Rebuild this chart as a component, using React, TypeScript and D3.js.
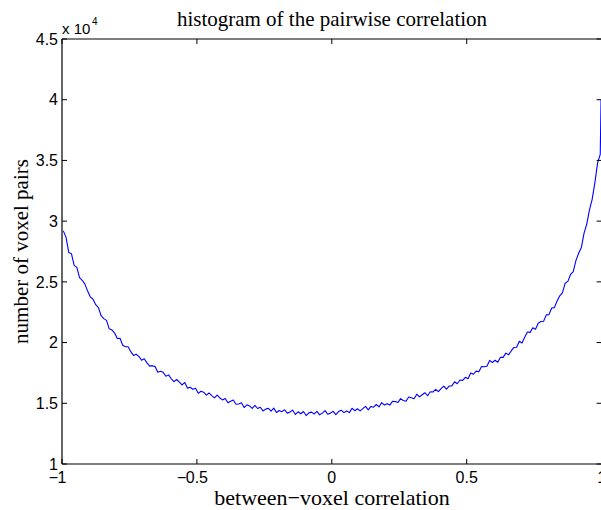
import React from 'react';
import * as d3 from 'd3';

// ---- data ----
const xTicks = [-1, -0.5, 0, 0.5, 1];
const xTickLabels = ['−1', '−0.5', '0', '0.5', '1'];
const yTicks = [1, 1.5, 2, 2.5, 3, 3.5, 4, 4.5];
const yTickLabels = ['1', '1.5', '2', '2.5', '3', '3.5', '4', '4.5'];
const yExponent = '4';
const titleText = 'histogram of the pairwise correlation';
const xLabelText = 'between−voxel correlation';
const yLabelText = 'number of voxel pairs';

// bin centers from -0.995 to 0.995 step 0.01
const binFirst = -0.995;
const binWidth = 0.01;
const counts = [
  29200, 28660, 27420, 27320, 26360, 26190, 25350, 25130, 24810, 24240,
  23760, 23570, 23120, 22880, 22210, 21970, 21830, 21130, 21040, 20780,
  20340, 20350, 19780, 19660, 19650, 19250, 18940, 19040, 18860, 18540,
  18670, 18330, 18060, 18100, 18020, 17560, 17630, 17550, 17230, 17340,
  17020, 16780, 16960, 16740, 16510, 16710, 16250, 16320, 16160, 16230,
  15820, 15990, 15910, 15670, 15850, 15630, 15450, 15680, 15440, 15280,
  15390, 15040, 15170, 15270, 14920, 14940, 15040, 14650, 14870, 14780,
  14580, 14820, 14570, 14670, 14370, 14520, 14590, 14350, 14600, 14240,
  14410, 14310, 14470, 14190, 14280, 14440, 14080, 14300, 14140, 14320,
  13990, 14210, 14270, 14120, 14340, 14050, 14190, 14400, 14100, 14190,
  14340, 14070, 14320, 14430, 14230, 14370, 14230, 14590, 14390, 14550,
  14380, 14560, 14750, 14460, 14740, 14680, 14900, 14700, 15060, 14850,
  14970, 14850, 15160, 15150, 15060, 15380, 15230, 15170, 15520, 15460,
  15380, 15750, 15530, 15700, 15870, 15620, 15950, 15930, 16150, 15960,
  16210, 16420, 16170, 16420, 16430, 16770, 16610, 16920, 16890, 17140,
  17020, 17500, 17390, 17650, 17590, 18030, 18010, 18050, 18530, 18360,
  18540, 18380, 18790, 18780, 19130, 18990, 19310, 19600, 19620, 20110,
  19970, 20440, 20870, 20840, 21220, 21100, 21590, 21730, 21760, 22280,
  22300, 22850, 22880, 23430, 23850, 24110, 24890, 25040, 25610, 25850,
  26770, 27360, 27820, 29020, 29760, 30930, 31800, 33150, 34780, 35500,
];
const lastBinX = 0.998;
const lastBinCount = 40000;

// ---- layout ----
const W = 601;
const H = 510;
const left = 62;
const right = 601.6;
const top = 39;
const bottom = 464;
const tickLen = 5;
const tickFont = 16;

function digitsWidth(s: string, size: number) {
  let w = 0;
  for (const c of s) w += c === '.' ? 0.278 : 0.556;
  return w * size;
}

export default function App() {
  const x = d3.scaleLinear().domain([-1, 1]).range([left, right]);
  const y = d3.scaleLinear().domain([1, 4.5]).range([bottom, top]);

  const pts: [number, number][] = counts.map((c, i) => [binFirst + i * binWidth, c / 1e4]);
  pts.push([lastBinX, lastBinCount / 1e4]);
  const line = d3.line<[number, number]>().x(d => x(d[0])).y(d => y(d[1]));

  const sans = 'Liberation Sans, Arial, Helvetica, sans-serif';
  const serif = 'Liberation Serif, Times New Roman, serif';

  return (
    <svg width={W} height={H} style={{ position: 'absolute', left: 0, top: 0, background: '#fff' }}>
      <rect x={0} y={0} width={W} height={H} fill="#fff" />
      <path d={line(pts) || ''} fill="none" stroke="#0000ff" strokeWidth={1.1} strokeLinejoin="round" />
      {/* box */}
      <g stroke="#000" strokeWidth={1.2} fill="none">
        <line x1={left} x2={right} y1={bottom} y2={bottom} />
        <line x1={left} x2={right} y1={top} y2={top} />
        <line x1={left} x2={left} y1={top} y2={bottom} />
        <line x1={right} x2={right} y1={top} y2={bottom} />
      </g>
      {/* ticks */}
      <g stroke="#000" strokeWidth={1}>
        {xTicks.map((t, i) => (
          <g key={'xt' + i}>
            <line x1={x(t)} x2={x(t)} y1={bottom} y2={bottom - tickLen} />
            <line x1={x(t)} x2={x(t)} y1={top} y2={top + tickLen} />
          </g>
        ))}
        {yTicks.map((t, i) => (
          <g key={'yt' + i}>
            <line x1={left} x2={left + tickLen} y1={y(t)} y2={y(t)} />
            <line x1={right} x2={right - tickLen} y1={y(t)} y2={y(t)} />
          </g>
        ))}
      </g>
      {/* x tick labels */}
      <g fontFamily={sans} fontSize={tickFont} fill="#000">
        {xTickLabels.map((lab, i) => {
          const neg = lab.startsWith('−');
          const digits = neg ? lab.slice(1) : lab;
          const dw = digitsWidth(digits, tickFont);
          const cx = x(xTicks[i]);
          return (
            <g key={'xl' + i}>
              <text x={cx} y={483} textAnchor="middle">{digits}</text>
              {neg && <text x={cx - dw / 2 + 0.5} y={483} textAnchor="end">−</text>}
            </g>
          );
        })}
        {yTickLabels.map((lab, i) => (
          <text key={'yl' + i} x={58} y={y(yTicks[i])} dy="0.36em" textAnchor="end">{lab}</text>
        ))}
        <text x={62} y={34} fontSize={15}>x 10</text>
        <text x={92} y={25} fontSize={10}>{yExponent}</text>
      </g>
      {/* labels */}
      <g fontFamily={serif} fill="#000">
        <text x={332} y={26} fontSize={21} textAnchor="middle">{titleText}</text>
        <text x={332} y={505} fontSize={22} textAnchor="middle">{xLabelText}</text>
        <text fontSize={21} transform={`translate(28, ${(top + bottom) / 2}) rotate(-90)`} textAnchor="middle">{yLabelText}</text>
      </g>
    </svg>
  );
}
